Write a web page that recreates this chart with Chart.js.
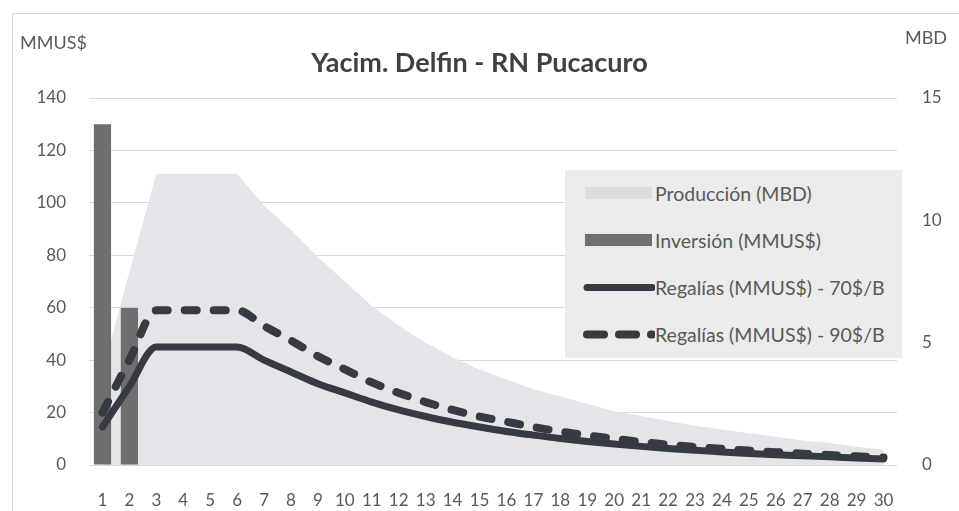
<!DOCTYPE html>
<html>
<head>
<meta charset="utf-8">
<script src="https://cdn.jsdelivr.net/npm/chart.js@4.4.1/dist/chart.umd.min.js"></script>
<style>
  body { margin: 0; background: #fff; }
  #wrap { position: relative; width: 959px; height: 511px; overflow: hidden; }
  #frame { position: absolute; left: 12px; top: 13px; width: 960px; height: 510px;
    border-left: 1px solid #d6d6d6; border-top: 1px solid #d6d6d6; pointer-events: none; }
  #legend { position: absolute; left: 565px; top: 170px; width: 337px; height: 188px;
    background: #ebebeb; font-family: Lato, sans-serif; font-size: 19.5px; color: #595959; }
  .row { position: relative; height: 47px; }
  .row svg { position: absolute; left: 0; top: 0; }
  .row span { position: absolute; left: 90px; top: 0; line-height: 47px; white-space: nowrap; }
</style>
</head>
<body>
<div id="wrap">
  <canvas id="chart" width="959" height="511"></canvas>
  <div id="frame"></div>
  <div id="legend">
    <div class="row">
      <svg width="90" height="47"><rect x="20" y="17" width="67" height="12" fill="#dcdbe3"/></svg>
      <span>Producción (MBD)</span>
    </div>
    <div class="row">
      <svg width="90" height="47"><rect x="20" y="17" width="67" height="12" fill="#6f6f6f"/></svg>
      <span>Inversión (MMUS$)</span>
    </div>
    <div class="row">
      <svg width="90" height="47"><line x1="22" y1="23.5" x2="87" y2="23.5" stroke="#353b40" stroke-width="7" stroke-linecap="round"/></svg>
      <span>Regalías (MMUS$) - 70$/B</span>
    </div>
    <div class="row">
      <svg width="90" height="47"><line x1="22" y1="23.5" x2="87" y2="23.5" stroke="#353b40" stroke-width="8" stroke-linecap="round" stroke-dasharray="17 15"/></svg>
      <span>Regalías (MMUS$) - 90$/B</span>
    </div>
  </div>
</div>
<script>
const years = [
  '1', '2', '3', '4', '5', '6', '7', '8', '9', '10',
  '11', '12', '13', '14', '15', '16', '17', '18', '19', '20',
  '21', '22', '23', '24', '25', '26', '27', '28', '29', '30'
];

// MBD, right axis
const produccion = [
  3.8, 7.9, 11.9, 11.9, 11.9, 11.9, 10.6, 9.6, 8.5, 7.5,
  6.5, 5.7, 5.0, 4.4, 3.9, 3.5, 3.1, 2.8, 2.5, 2.2,
  2.0, 1.8, 1.6, 1.45, 1.3, 1.15, 1.0, 0.9, 0.75, 0.62
];

// MMUS$, left axis
const inversion = [130, 60];

const regalias70 = [
  14.5, 30, 45, 45, 45, 45, 40, 35.5, 31, 27.5,
  24, 21, 18.5, 16.3, 14.5, 12.8, 11.4, 10.1, 9.0, 8.0,
  7.1, 6.3, 5.6, 5.0, 4.4, 3.9, 3.5, 3.1, 2.7, 2.3
];

const regalias90 = [
  20, 40, 59, 59, 59, 59, 53, 47.5, 41.5, 36.5,
  31.5, 27.5, 24, 21, 18.5, 16.5, 14.5, 12.8, 11.3, 10,
  8.8, 7.8, 6.9, 6.2, 5.5, 4.9, 4.3, 3.8, 3.3, 2.9
];

const left_ticks = [0, 20, 40, 60, 80, 100, 120, 140];
const right_ticks = [0, 5, 10, 15];

const text_color = '#595959';
const line_color = '#353b40';

const axis_titles = {
  id: 'axis_titles',
  afterDraw (chart) {
    const ctx = chart.ctx;
    ctx.save();
    ctx.fillStyle = text_color;
    ctx.font = '18px Lato, sans-serif';
    ctx.textBaseline = 'middle';
    ctx.textAlign = 'left';
    ctx.fillText('MMUS$', 20, 43);
    ctx.fillText('MBD', 905, 38);
    ctx.restore();
  }
};

const ctx = document.getElementById('chart').getContext('2d');
new Chart(ctx, {
  data: {
    labels: years,
    datasets: [
      {
        type: 'line',
        label: 'Regalías (MMUS$) - 90$/B',
        data: regalias90,
        yAxisID: 'y',
        borderColor: line_color,
        borderWidth: 8,
        borderDash: [12, 17],
        borderCapStyle: 'round',
        pointRadius: 0,
        cubicInterpolationMode: 'monotone',
        order: 1
      },
      {
        type: 'line',
        label: 'Regalías (MMUS$) - 70$/B',
        data: regalias70,
        yAxisID: 'y',
        borderColor: line_color,
        borderWidth: 7,
        borderCapStyle: 'round',
        borderJoinStyle: 'round',
        pointRadius: 0,
        cubicInterpolationMode: 'monotone',
        order: 2
      },
      {
        type: 'bar',
        label: 'Inversión (MMUS$)',
        data: inversion,
        yAxisID: 'y',
        backgroundColor: '#6f6f6f',
        barPercentage: 0.64,
        categoryPercentage: 1,
        order: 3
      },
      {
        type: 'line',
        label: 'Producción (MBD)',
        data: produccion,
        yAxisID: 'y1',
        backgroundColor: '#e5e4eb',
        borderWidth: 0,
        pointRadius: 0,
        fill: 'origin',
        tension: 0,
        order: 4
      }
    ]
  },
  options: {
    responsive: false,
    animation: false,
    events: [],
    layout: { padding: 0 },
    plugins: {
      legend: { display: false },
      tooltip: { enabled: false },
      title: {
        display: true,
        text: 'Yacim. Delfin - RN Pucacuro',
        color: '#404040',
        font: { family: 'Lato, sans-serif', size: 27, weight: 'bold' },
        padding: { top: 47, bottom: 18.6 }
      }
    },
    scales: {
      x: {
        offset: true,
        grid: { display: false },
        border: { display: false },
        ticks: {
          color: text_color,
          font: { family: 'Lato, sans-serif', size: 17 },
          padding: 17,
          maxRotation: 0,
          autoSkip: false
        },
        afterFit: scale => { scale.height = 46; }
      },
      y: {
        position: 'left',
        min: 0,
        max: 140,
        afterBuildTicks: scale => { scale.ticks = left_ticks.map(v => ({ value: v })); },
        grid: { color: '#d9d9d9', lineWidth: 1, drawTicks: false },
        border: { display: false },
        ticks: {
          color: text_color,
          font: { family: 'Lato, sans-serif', size: 17 },
          padding: 23
        },
        afterFit: scale => { scale.width = 89; }
      },
      y1: {
        position: 'right',
        min: 0,
        max: 15,
        afterBuildTicks: scale => { scale.ticks = right_ticks.map(v => ({ value: v })); },
        grid: { drawOnChartArea: false, drawTicks: false },
        border: { display: false },
        ticks: {
          color: text_color,
          font: { family: 'Lato, sans-serif', size: 17 },
          padding: 25
        },
        afterFit: scale => { scale.width = 62; }
      }
    }
  },
  plugins: [axis_titles]
});
</script>
</body>
</html>
